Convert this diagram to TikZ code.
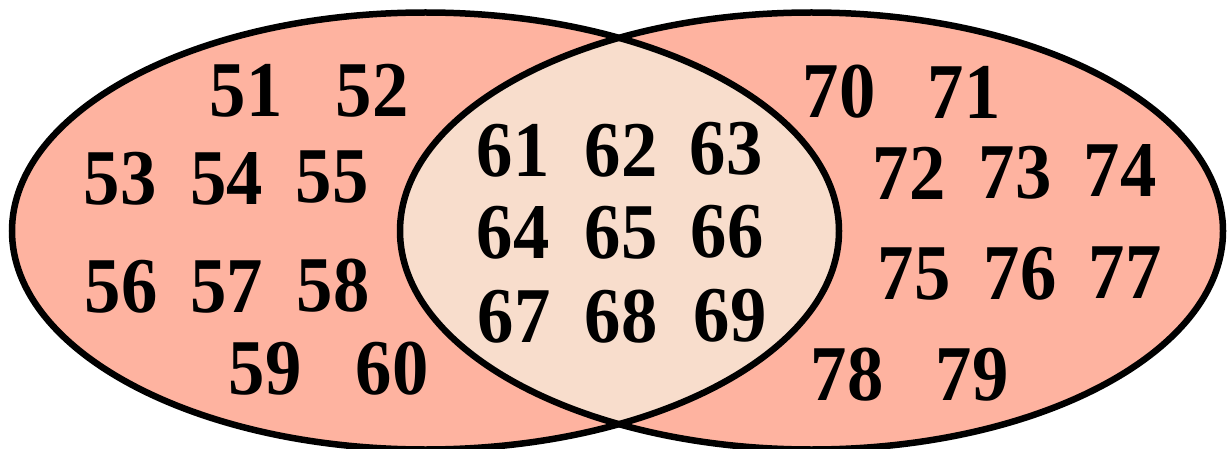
\documentclass[tikz,border=0pt]{standalone}
\usepackage{fontspec}
\usepackage{graphicx}
\setmainfont{Liberation Serif}
\definecolor{outerfill}{HTML}{FEB3A0}
\definecolor{lensfill}{HTML}{F8DDCC}
\newcommand{\numtxt}[1]{\scalebox{0.92}[1]{#1}}
\begin{document}
\begin{tikzpicture}[x=1pt,y=-1pt,
  num/.style={inner sep=0pt,anchor=center,font=\fontsize{79}{84}\selectfont\bfseries},
  setline/.style={line width=6.5pt,draw=black}]
\useasboundingbox (0,0) rectangle (1228,449);
% fills
\fill[outerfill] (425.5,231) ellipse [x radius=413.5, y radius=218.5];
\fill[outerfill] (811.5,231) ellipse [x radius=411.5, y radius=218.5];
\begin{scope}
  \clip (425.5,231) ellipse [x radius=413.5, y radius=218.5];
  \fill[lensfill] (811.5,231) ellipse [x radius=411.5, y radius=218.5];
\end{scope}
% outlines
\draw[setline] (425.5,231) ellipse [x radius=413.5, y radius=218.5];
\draw[setline] (811.5,231) ellipse [x radius=411.5, y radius=218.5];
% left set
\node[num] (n51) at (246,91) {\numtxt{51}};
\node[num] (n52) at (372,91) {\numtxt{52}};
\node[num] (n53) at (120,179) {\numtxt{53}};
\node[num] (n54) at (226.5,179) {\numtxt{54}};
\node[num] (n55) at (332,177) {\numtxt{55}};
\node[num] (n56) at (121,287) {\numtxt{56}};
\node[num] (n57) at (226.5,287) {\numtxt{57}};
\node[num] (n58) at (333,286) {\numtxt{58}};
\node[num] (n59) at (265,369) {\numtxt{59}};
\node[num] (n60) at (392,369) {\numtxt{60}};
% intersection
\node[num] (n61) at (513,151) {\numtxt{61}};
\node[num] (n62) at (621,151) {\numtxt{62}};
\node[num] (n63) at (726,149) {\numtxt{63}};
\node[num] (n64) at (513,233) {\numtxt{64}};
\node[num] (n65) at (621,233) {\numtxt{65}};
\node[num] (n66) at (727,232) {\numtxt{66}};
\node[num] (n67) at (514,317) {\numtxt{67}};
\node[num] (n68) at (621,317) {\numtxt{68}};
\node[num] (n69) at (730,316) {\numtxt{69}};
% right set
\node[num] (n70) at (839,92) {\numtxt{70}};
\node[num] (n71) at (964,92) {\numtxt{71}};
\node[num] (n72) at (909,173) {\numtxt{72}};
\node[num] (n73) at (1015,173) {\numtxt{73}};
\node[num] (n74) at (1120,171) {\numtxt{74}};
\node[num] (n75) at (914,274) {\numtxt{75}};
\node[num] (n76) at (1020,274) {\numtxt{76}};
\node[num] (n77) at (1125,273) {\numtxt{77}};
\node[num] (n78) at (847,375) {\numtxt{78}};
\node[num] (n79) at (972,375) {\numtxt{79}};
\end{tikzpicture}
\end{document}
